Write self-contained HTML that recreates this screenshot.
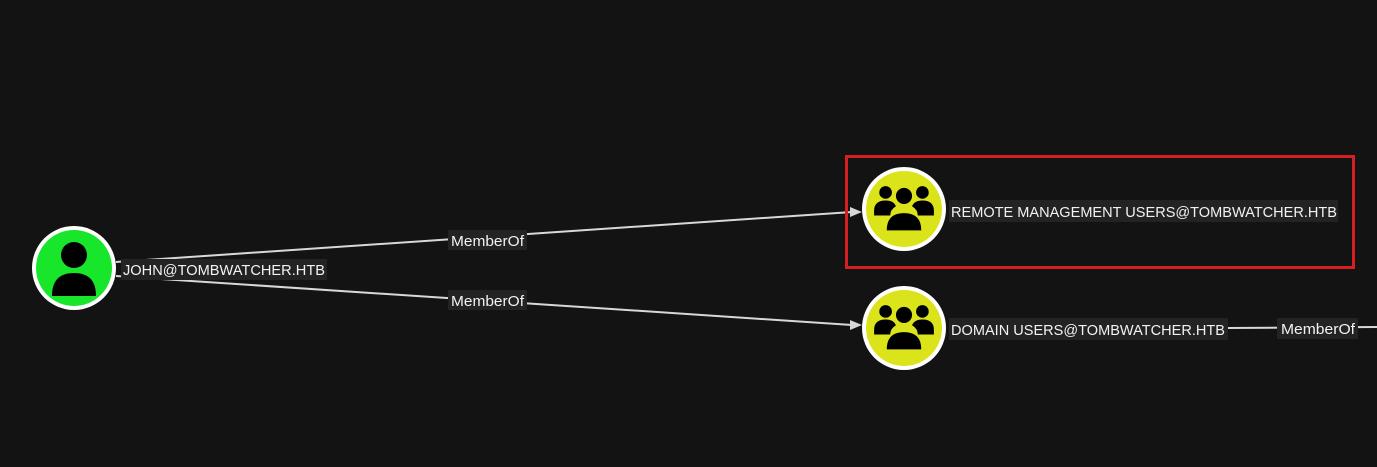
<!DOCTYPE html>
<html><head><style>
html,body{margin:0;padding:0;background:#131313;}
svg{display:block}
text{font-family:"Liberation Sans",sans-serif;font-size:14.5px;fill:#f2f2f2}
</style></head><body>
<svg width="1377" height="467" viewBox="0 0 1377 467" xmlns="http://www.w3.org/2000/svg">
<defs>
<g id="grp">
  <circle cx="0" cy="-14" r="7"/>
  <circle cx="-16" cy="-17" r="5.5"/>
  <circle cx="16" cy="-17" r="5.5"/>
  <path d="M-26,-1 Q-26,-10 -16,-10 Q-9,-10 -7,-5 Q-12,-2 -12,3 L-26,3 Z"/>
  <path d="M26,-1 Q26,-10 16,-10 Q9,-10 7,-5 Q12,-2 12,3 L26,3 Z"/>
  <path d="M-15,16 Q-15,1 0,1 Q15,1 15,16 Z"/>
</g>
</defs>
<!-- edges -->
<line x1="116" y1="262" x2="852" y2="212" stroke="#d8d8d8" stroke-width="2"/>
<polygon points="862,212 850,207 850,217" fill="#d8d8d8"/>
<line x1="116" y1="276" x2="852" y2="325" stroke="#d8d8d8" stroke-width="2"/>
<polygon points="862,325 850,320 850,330" fill="#d8d8d8"/>
<line x1="1228" y1="328" x2="1377" y2="327" stroke="#d8d8d8" stroke-width="2"/>
<!-- edge labels -->
<rect x="448" y="230" width="79" height="20" fill="#232323"/>
<text x="451" y="246" textLength="73" lengthAdjust="spacingAndGlyphs">MemberOf</text>
<rect x="448" y="290" width="79" height="20" fill="#232323"/>
<text x="451" y="306" textLength="73" lengthAdjust="spacingAndGlyphs">MemberOf</text>
<rect x="1277" y="318" width="81" height="21" fill="#232323"/>
<text x="1281" y="334" textLength="74" lengthAdjust="spacingAndGlyphs">MemberOf</text>
<!-- John -->
<circle cx="74" cy="268" r="42" fill="#fff"/>
<circle cx="74" cy="268" r="38" fill="#17e62a"/>
<circle cx="74" cy="255" r="13" fill="#000"/>
<path d="M52,296 Q52,273 74,273 Q96,273 96,296 Z" fill="#000"/>
<rect x="121" y="259" width="206" height="21" fill="#232323"/>
<text x="123" y="275" textLength="202" lengthAdjust="spacingAndGlyphs">JOHN@TOMBWATCHER.HTB</text>
<!-- Remote -->
<circle cx="904" cy="209" r="42" fill="#fff"/>
<circle cx="904" cy="209" r="38" fill="#dbe41a"/>
<use href="#grp" transform="translate(904,212) scale(1.15)" fill="#000"/>
<rect x="949" y="200" width="389" height="22" fill="#232323"/>
<text x="951" y="217" textLength="386" lengthAdjust="spacingAndGlyphs">REMOTE MANAGEMENT USERS@TOMBWATCHER.HTB</text>
<rect x="846.5" y="156.5" width="507" height="111" fill="none" stroke="#d42020" stroke-width="3"/>
<!-- Domain -->
<circle cx="904" cy="328" r="42" fill="#fff"/>
<circle cx="904" cy="328" r="38" fill="#dbe41a"/>
<use href="#grp" transform="translate(904,331) scale(1.15)" fill="#000"/>
<rect x="949" y="318" width="279" height="22" fill="#232323"/>
<text x="951" y="335" textLength="274" lengthAdjust="spacingAndGlyphs">DOMAIN USERS@TOMBWATCHER.HTB</text>
</svg>
</body></html>
